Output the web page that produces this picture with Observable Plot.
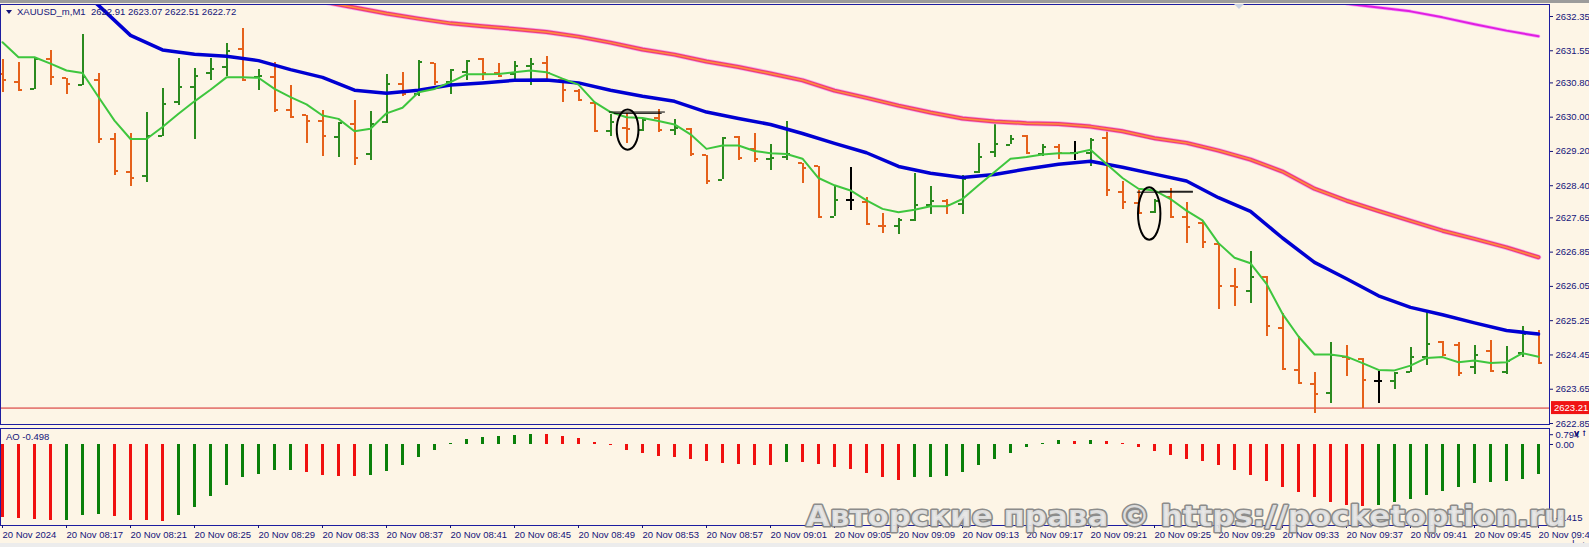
<!DOCTYPE html>
<html><head><meta charset="utf-8">
<script src="https://cdn.jsdelivr.net/npm/d3@7"></script>
<script src="https://cdn.jsdelivr.net/npm/@observablehq/plot@0.6"></script>
<style>
html,body{margin:0;padding:0;background:#fdf5e6;}
#wrap{position:relative;width:1589px;height:547px;overflow:hidden;background:#fdf5e6;font-family:"Liberation Sans",Arial,sans-serif;}
#topband{position:absolute;left:0;top:0;width:1589px;height:3px;background:#9c9c9c;}
#botband{position:absolute;left:0;top:543px;width:1589px;height:4px;background:#ececec;}
#main{position:absolute;left:0;top:0;}
#ao{position:absolute;left:0;top:426px;}
#hdr{position:absolute;left:17px;top:6px;font-size:9.5px;line-height:12px;color:#14147a;white-space:pre;}
#tri{position:absolute;left:6px;top:10px;width:0;height:0;border-left:3.5px solid transparent;border-right:3.5px solid transparent;border-top:4px solid #14147a;}
#shift{position:absolute;left:1234px;top:4px;width:0;height:0;border-left:5px solid transparent;border-right:5px solid transparent;border-top:5px solid #c9d2e3;}
#aolab{position:absolute;left:6px;top:431px;font-size:9.5px;line-height:12px;color:#14147a;white-space:pre;}
#wm{position:absolute;left:0;top:0;pointer-events:none;}
</style></head>
<body><div id="wrap">
<div id="topband"></div>
<div id="main"></div>
<div id="ao"></div>
<div id="tri"></div>
<div id="hdr"></div>
<div id="shift"></div>
<div id="aolab"></div>
<div id="botband"></div>
<svg id="wm" width="1589" height="547"></svg>
</div>
<script>
// ---------- data ----------
const symbolTitle = "XAUUSD_m,M1  2622.91 2623.07 2622.51 2622.72";
const aoTitle = "AO -0.498";
const bidPrice = 2623.21;
const watermark = "Авторские права © https://pocketoption.ru";

const opens  = [2631.00,2630.82,2630.66,2631.36,2630.91,2630.76,2630.87,2629.49,2628.72,2628.62,2629.57,2630.35,2630.70,2631.03,2631.18,2631.60,2630.93,2630.93,2630.16,2630.04,2629.92,2629.53,2629.83,2629.13,2629.88,2630.78,2630.54,2631.26,2630.82,2631.05,2631.36,2631.02,2631.01,2631.20,2631.26,2630.87,2630.62,2630.33,2629.67,2629.74,2629.69,2629.98,2629.69,2629.73,2629.11,2628.54,2629.53,2629.26,2629.03,2629.08,2628.93,2628.85,2627.68,2628.07,2628.02,2627.47,2627.45,2627.59,2627.96,2628.05,2627.98,2628.72,2629.18,2629.36,2629.55,2629.14,2629.30,2629.16,2629.16,2629.52,2628.25,2627.99,2627.78,2628.13,2627.67,2627.53,2627.04,2626.07,2625.94,2626.27,2625.08,2624.09,2623.78,2623.56,2624.40,2624.36,2623.84,2623.85,2624.05,2624.41,2624.75,2624.69,2624.17,2624.55,2624.05,2624.49,2624.94];
const highs  = [2631.34,2631.28,2631.40,2631.56,2630.91,2631.93,2631.03,2629.61,2629.61,2630.11,2630.66,2631.38,2631.13,2631.36,2631.71,2632.06,2631.11,2631.28,2630.74,2630.04,2630.16,2629.88,2630.40,2630.14,2630.99,2631.05,2631.32,2631.26,2631.10,2631.32,2631.38,2631.26,2631.31,2631.38,2631.41,2630.87,2630.64,2630.35,2630.06,2630.08,2629.98,2630.17,2629.94,2629.73,2629.11,2629.52,2629.55,2629.62,2629.36,2629.91,2628.93,2628.85,2628.41,2628.82,2628.12,2627.76,2627.63,2628.69,2628.38,2628.07,2628.64,2629.39,2629.88,2629.57,2629.57,2629.36,2629.36,2629.44,2629.50,2629.69,2628.51,2628.29,2628.07,2628.33,2628.02,2627.57,2627.06,2626.46,2626.86,2626.27,2625.42,2624.88,2624.03,2624.73,2624.67,2624.36,2624.07,2624.03,2624.63,2625.45,2624.77,2624.75,2624.67,2624.79,2624.65,2625.11,2625.01];
const lows   = [2630.58,2630.64,2630.64,2630.74,2630.54,2630.74,2629.38,2628.64,2628.38,2628.48,2629.55,2630.27,2629.47,2630.86,2630.96,2630.87,2630.62,2630.11,2629.98,2629.39,2629.08,2629.07,2628.87,2628.99,2629.86,2630.48,2630.48,2630.74,2630.54,2630.86,2630.86,2630.93,2630.87,2630.74,2630.89,2630.35,2630.37,2629.65,2629.55,2629.39,2629.67,2629.65,2629.57,2629.08,2628.44,2628.54,2629.00,2628.95,2628.75,2629.00,2628.46,2627.68,2627.68,2627.82,2627.47,2627.29,2627.26,2627.57,2627.74,2627.74,2627.74,2628.68,2629.07,2629.36,2629.13,2629.08,2629.01,2628.99,2628.85,2628.15,2627.84,2627.73,2627.76,2627.65,2627.06,2626.93,2625.50,2625.57,2625.64,2624.87,2624.13,2623.78,2623.08,2623.31,2623.95,2623.19,2623.31,2623.64,2624.03,2624.20,2624.41,2623.95,2623.99,2624.07,2623.99,2624.38,2624.26];
const closes = [2630.87,2630.64,2631.36,2630.93,2630.78,2630.93,2629.49,2628.74,2628.58,2629.57,2630.30,2630.70,2630.97,2631.13,2631.54,2630.87,2630.95,2630.17,2630.01,2629.91,2629.55,2629.86,2629.05,2629.83,2630.78,2630.54,2631.28,2630.82,2631.10,2631.30,2631.02,2630.95,2631.20,2631.24,2631.02,2630.64,2630.39,2629.67,2629.88,2629.72,2629.94,2629.70,2629.75,2629.13,2628.52,2629.52,2629.05,2629.03,2629.05,2629.13,2628.82,2627.68,2628.06,2628.07,2627.50,2627.45,2627.60,2627.94,2628.05,2627.94,2628.56,2629.07,2629.38,2629.50,2629.16,2629.30,2629.16,2629.16,2629.47,2628.29,2628.02,2627.76,2628.05,2627.68,2627.43,2627.08,2626.07,2626.03,2626.27,2625.12,2624.13,2623.79,2623.54,2624.44,2624.36,2623.87,2623.84,2624.03,2624.40,2624.71,2624.44,2624.02,2624.46,2624.07,2624.32,2624.94,2624.26];

const maFast = [2631.75,2631.40,2631.40,2631.25,2631.09,2631.03,2630.47,2629.92,2629.49,2629.49,2629.77,2630.08,2630.37,2630.64,2630.93,2630.93,2630.92,2630.66,2630.47,2630.30,2630.04,2629.96,2629.67,2629.73,2630.09,2630.22,2630.58,2630.66,2630.82,2631.00,2631.00,2631.01,2631.05,2631.09,2631.05,2630.90,2630.76,2630.35,2630.12,2630.00,2629.98,2629.91,2629.83,2629.60,2629.26,2629.34,2629.34,2629.21,2629.16,2629.14,2629.03,2628.58,2628.41,2628.29,2628.06,2627.86,2627.78,2627.84,2627.92,2627.92,2628.09,2628.41,2628.72,2629.03,2629.07,2629.13,2629.16,2629.16,2629.24,2628.91,2628.58,2628.33,2628.29,2628.09,2627.82,2627.59,2627.06,2626.72,2626.59,2626.11,2625.41,2624.88,2624.46,2624.46,2624.41,2624.26,2624.10,2624.09,2624.20,2624.38,2624.40,2624.28,2624.32,2624.26,2624.28,2624.49,2624.41];

const maMidIdx = [4,6,8,10,12,14,16,18,20,22,24,26,28,30,32,34,36,38,40,42,44,46,48,50,52,54,56,58,60,62,64,66,68,70,72,74,76,78,80,82,84,86,88,90,92,94,96];
const maMid = [2633.24,2632.61,2631.91,2631.57,2631.47,2631.42,2631.32,2631.11,2630.93,2630.63,2630.56,2630.63,2630.75,2630.80,2630.86,2630.87,2630.80,2630.63,2630.49,2630.37,2630.12,2629.97,2629.83,2629.62,2629.39,2629.17,2628.85,2628.69,2628.59,2628.66,2628.79,2628.90,2628.97,2628.83,2628.67,2628.51,2628.12,2627.80,2627.18,2626.61,2626.23,2625.83,2625.56,2625.39,2625.20,2625.02,2624.94];

const maSlowIdx = [18,20,22,24,26,28,30,32,34,36,38,40,42,44,46,48,50,52,54,56,58,60,62,64,66,68,70,72,74,76,78,80,82,84,86,88,90,92,94,96];
const maSlow = [2632.85,2632.70,2632.56,2632.42,2632.30,2632.19,2632.12,2632.06,2631.99,2631.88,2631.74,2631.58,2631.46,2631.30,2631.17,2631.02,2630.86,2630.62,2630.45,2630.27,2630.11,2629.97,2629.90,2629.86,2629.84,2629.78,2629.67,2629.51,2629.40,2629.22,2629.01,2628.73,2628.33,2628.05,2627.81,2627.58,2627.35,2627.16,2626.96,2626.73];

const maLongIdx = [82,84,86,88,90,92,94,96];
const maLong = [2632.80,2632.65,2632.56,2632.47,2632.33,2632.17,2632.02,2631.89];

const aoValues = [-4.18,-4.24,-4.30,-4.37,-4.36,-4.07,-4.01,-4.13,-4.36,-4.40,-4.415,-4.07,-3.61,-2.98,-2.34,-1.88,-1.71,-1.50,-1.49,-1.59,-1.77,-1.82,-1.83,-1.81,-1.54,-1.19,-0.73,-0.33,0.04,0.27,0.38,0.46,0.52,0.58,0.57,0.46,0.33,0.13,-0.06,-0.35,-0.54,-0.69,-0.73,-0.84,-0.96,-1.07,-1.15,-1.19,-1.20,-1.02,-1.04,-1.15,-1.34,-1.42,-1.69,-1.92,-2.07,-1.92,-1.91,-1.82,-1.59,-1.19,-0.88,-0.54,-0.15,0.08,0.21,0.20,0.22,0.15,0.03,-0.19,-0.38,-0.61,-0.84,-0.96,-1.19,-1.50,-1.77,-2.11,-2.46,-2.74,-3.07,-3.36,-3.51,-3.57,-3.53,-3.34,-3.19,-2.96,-2.73,-2.50,-2.26,-2.17,-2.11,-2.00,-1.75];

const priceTicks = [2632.35,2631.55,2630.80,2630.00,2629.20,2628.40,2627.65,2626.85,2626.05,2625.25,2624.45,2623.65,2622.85];
const priceRange = [2622.85, 2632.35];
const aoRange = [-4.415, 0.794];
const timeTickIdx = [0,4,8,12,16,20,24,28,32,36,40,44,48,52,56,60,64,68,72,76,80,84,88,92,96];
const timeLabels = ["20 Nov 2024","20 Nov 08:17","20 Nov 08:21","20 Nov 08:25","20 Nov 08:29","20 Nov 08:33","20 Nov 08:37","20 Nov 08:41","20 Nov 08:45","20 Nov 08:49","20 Nov 08:53","20 Nov 08:57","20 Nov 09:01","20 Nov 09:05","20 Nov 09:09","20 Nov 09:13","20 Nov 09:17","20 Nov 09:21","20 Nov 09:25","20 Nov 09:29","20 Nov 09:33","20 Nov 09:37","20 Nov 09:41","20 Nov 09:45","20 Nov 09:49"];

// user drawings: ellipses (bar index, price, half-width in bars, half-height in price) and lines
const ellipseIdx = [39.1, 71.7];
const ellipsePrice = [2629.70, 2627.74];
const ellipseHalfW = [0.68, 0.70];
const ellipseHalfH = [0.47, 0.61];
const segStart = [37.9, 38.2, 70.9, 72.3];
const segEnd = [41.4, 41.2, 74.4, 74.4];
const segPrice = [2630.12, 2630.09, 2628.25, 2628.27];

// ---------- build ----------
const bars = opens.map((o,i)=>({i, o, h:highs[i], l:lows[i], c:closes[i]}));
const barColor = d => d.c > d.o ? "#2b8a1f" : (d.c < d.o ? "#e5611b" : "#000000");
const fast = maFast.map((v,i)=>({i, v}));
const mid = maMid.map((v,k)=>({i:maMidIdx[k], v}));
const slow = maSlow.map((v,k)=>({i:maSlowIdx[k], v}));
const long = maLong.map((v,k)=>({i:maLongIdx[k], v}));
const segs = segStart.map((s,k)=>({s, e:segEnd[k], p:segPrice[k]}));
const aoData = aoValues.map((v,i)=>({i, v, up: i>0 && v > aoValues[i-1]}));
const NAVY = "#14147a";
const FRAME = "#1d1da0";
const font = "'Liberation Sans', Arial, sans-serif";

const main = Plot.plot({
  width: 1589, height: 428,
  marginLeft: 0, marginRight: 40, marginTop: 4, marginBottom: 4,
  x: {type: "linear", domain: [0, 96], range: [2, 1538], axis: null},
  y: {type: "linear", domain: priceRange, range: [423, 16], axis: null},
  style: {background: "transparent", fontFamily: font, fontSize: "9.5px", color: NAVY, overflow: "visible"},
  marks: [
    Plot.ruleY([bidPrice], {stroke: "#d42424", strokeWidth: 1, clip: true}),
    Plot.ruleX(bars, {x: "i", y1: "l", y2: "h", stroke: barColor, strokeWidth: 2, shapeRendering: "crispEdges"}),
    Plot.ruleY(bars, {y: "o", x1: d => d.i - 0.28, x2: "i", stroke: barColor, strokeWidth: 2, shapeRendering: "crispEdges"}),
    Plot.ruleY(bars, {y: "c", x1: "i", x2: d => d.i + 0.28, stroke: barColor, strokeWidth: 2, shapeRendering: "crispEdges"}),
    Plot.line(long, {x: "i", y: "v", stroke: "#f6a0f6", strokeWidth: 3.5, clip: true}),
    Plot.line(long, {x: "i", y: "v", stroke: "#e01ee0", strokeWidth: 2, clip: true}),
    Plot.line(slow, {x: "i", y: "v", stroke: "#f4a6f0", strokeWidth: 5.5, clip: true}),
    Plot.line(slow, {x: "i", y: "v", stroke: "#ee3f72", strokeWidth: 4, clip: true}),
    Plot.line(slow, {x: "i", y: "v", stroke: "#ff8d3c", strokeWidth: 1.5, clip: true}),
    Plot.line(mid, {x: "i", y: "v", stroke: "#0000d2", strokeWidth: 3.5, clip: true}),
    Plot.line(fast, {x: "i", y: "v", stroke: "#3ec63e", strokeWidth: 2, clip: true}),
    Plot.link(segs, {x1: "s", x2: "e", y1: "p", y2: "p", stroke: "#000", strokeWidth: 1}),
    Plot.frame({stroke: FRAME}),
    Plot.axisY({anchor: "right", ticks: priceTicks, tickFormat: d => d.toFixed(2), tickSize: 3, tickPadding: 3, color: NAVY, fontSize: 9.5})
  ]
});
document.getElementById("main").appendChild(main);

// ellipses and bid label drawn with the plot's scales
const sx = main.scale("x"), sy = main.scale("y");
const msvg = d3.select(main);
ellipseIdx.forEach((ei, k) => {
  const cx = sx.apply(ei), cy = sy.apply(ellipsePrice[k]);
  const rx = Math.abs(sx.apply(ei + ellipseHalfW[k]) - cx);
  const ry = Math.abs(sy.apply(ellipsePrice[k] + ellipseHalfH[k]) - cy);
  msvg.append("ellipse").attr("cx", cx).attr("cy", cy).attr("rx", rx).attr("ry", ry)
    .attr("fill", "none").attr("stroke", "#000").attr("stroke-width", 2);
});
const by = sy.apply(bidPrice);
const bidG = msvg.append("g");
bidG.append("rect").attr("x", 1551).attr("y", by - 6.5).attr("width", 38).attr("height", 13).attr("fill", "#f01414");
bidG.append("text").attr("x", 1554).attr("y", by + 3.5).attr("fill", "#ffffff")
  .attr("text-anchor", "start").attr("font-family", font).attr("font-size", 9.5).text(bidPrice.toFixed(2));

const ao = Plot.plot({
  width: 1589, height: 121,
  marginLeft: 0, marginRight: 40, marginTop: 2, marginBottom: 22,
  x: {type: "linear", domain: [0, 96], range: [2, 1538]},
  y: {type: "linear", domain: aoRange, range: [94.7, 4.2], axis: null},
  style: {background: "transparent", fontFamily: font, fontSize: "9.5px", color: NAVY, overflow: "visible"},
  marks: [
    Plot.ruleX(aoData, {x: "i", y1: 0, y2: "v", stroke: d => d.up ? "#0a800a" : "#f01010", strokeWidth: 3, clip: true, shapeRendering: "crispEdges"}),
    Plot.frame({stroke: FRAME}),
    Plot.axisX({anchor: "bottom", ticks: timeTickIdx, tickFormat: d => timeLabels[d / 4], tickSize: 3, tickPadding: 3, textAnchor: "start", dx: 0, color: NAVY, fontSize: 9.5}),
    Plot.axisY({anchor: "right", ticks: [0], tickFormat: d => "0.00", tickSize: 3, tickPadding: 3, color: NAVY, fontSize: 9.5}),
    Plot.axisY({anchor: "right", ticks: [aoRange[1]], tickFormat: d => d.toFixed(3), tickSize: 3, tickPadding: 3, dy: 4, color: NAVY, fontSize: 9.5}),
    Plot.axisY({anchor: "right", ticks: [aoRange[0]], tickFormat: d => d.toFixed(3), tickSize: 3, tickPadding: 3, dy: -3, color: NAVY, fontSize: 9.5})
  ]
});
document.getElementById("ao").appendChild(ao);

document.getElementById("hdr").textContent = symbolTitle;
document.getElementById("aolab").textContent = aoTitle;

// watermark
const wm = d3.select("#wm");
wm.append("text").attr("x", 806).attr("y", 526)
  .attr("font-family", "'DejaVu Sans', Verdana, sans-serif").attr("font-weight", "bold").attr("font-size", 28)
  .attr("textLength", 760).attr("lengthAdjust", "spacingAndGlyphs")
  .attr("fill", "#e6e6e6").attr("fill-opacity", 0.92)
  .attr("stroke", "#858585").attr("stroke-width", 3).attr("stroke-opacity", 0.95)
  .attr("paint-order", "stroke").attr("stroke-linejoin", "round")
  .text(watermark);
</script>
</body></html>
